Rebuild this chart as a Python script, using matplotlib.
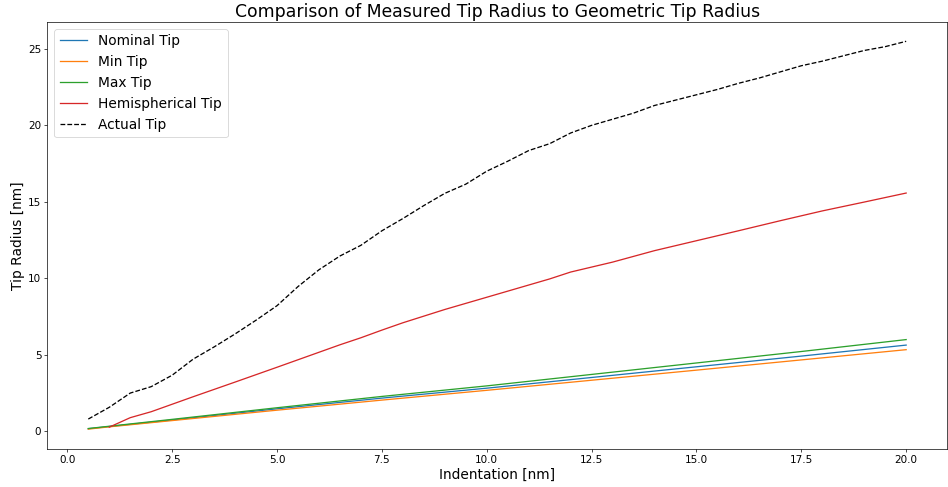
import matplotlib
matplotlib.use('Agg')
import matplotlib.pyplot as plt

# geometric tip models
x_geo = [0.5, 1.0, 2.5, 5.0, 7.5, 10.0, 12.5, 15.0, 17.5, 20.0]
nominal_tip = [0.15, 0.29, 0.72, 1.45, 2.15, 2.8, 3.5, 4.2, 4.9, 5.62]
min_tip = [0.12, 0.27, 0.68, 1.36, 2.02, 2.66, 3.32, 3.98, 4.65, 5.32]
max_tip = [0.16, 0.31, 0.76, 1.52, 2.26, 2.95, 3.7, 4.45, 5.2, 5.98]

x_hemi = [1.0, 1.5, 2.0, 2.5, 3.0, 3.5, 4.0, 5.0, 6.0, 6.5, 7.0, 7.5, 8.0, 9.0,
          10.0, 11.0, 11.5, 12.0, 13.0, 14.0, 15.0, 16.0, 17.0, 18.0, 19.0, 20.0]
hemi_tip = [0.25, 0.87, 1.26, 1.75, 2.24, 2.72, 3.2, 4.17, 5.15, 5.64, 6.1, 6.6,
            7.08, 7.95, 8.75, 9.55, 9.95, 10.4, 11.05, 11.8, 12.45, 13.1, 13.76,
            14.4, 14.98, 15.57]

# measured (actual) tip radius
x_act = [0.5, 1.0, 1.5, 2.0, 2.5, 3.0, 3.5, 4.0, 4.5, 5.0, 5.5, 6.0, 6.5, 7.0,
         7.5, 8.0, 8.5, 9.0, 9.5, 10.0, 10.5, 11.0, 11.5, 12.0, 12.5, 13.0,
         13.5, 14.0, 14.5, 15.0, 15.5, 16.0, 16.5, 17.0, 17.5, 18.0, 18.5,
         19.0, 19.5, 20.0]
actual_tip = [0.78, 1.55, 2.48, 2.9, 3.65, 4.7, 5.5, 6.35, 7.25, 8.2, 9.45,
              10.55, 11.45, 12.15, 13.1, 13.9, 14.75, 15.55, 16.15, 17.0,
              17.65, 18.35, 18.8, 19.5, 20.0, 20.4, 20.8, 21.3, 21.65, 22.0,
              22.35, 22.75, 23.1, 23.5, 23.9, 24.2, 24.55, 24.9, 25.15, 25.5]

dpi = 62
fig, ax = plt.subplots(figsize=(948 / dpi, 487 / dpi), dpi=dpi)
fig.subplots_adjust(left=0.05, right=0.999, bottom=0.079, top=0.955)

ax.plot(x_geo, nominal_tip, color='tab:blue', label='Nominal Tip')
ax.plot(x_geo, min_tip, color='tab:orange', label='Min Tip')
ax.plot(x_geo, max_tip, color='tab:green', label='Max Tip')
ax.plot(x_hemi, hemi_tip, color='tab:red', label='Hemispherical Tip')
ax.plot(x_act, actual_tip, color='black', ls='--', label='Actual Tip')

ax.set_title('Comparison of Measured Tip Radius to Geometric Tip Radius', fontsize=20)
ax.set_xlabel('Indentation [nm]', fontsize=16)
ax.set_ylabel('Tip Radius [nm]', fontsize=16)
ax.tick_params(labelsize=12)
ax.legend(loc='upper left', fontsize=16)

fig.savefig('out.png', dpi=dpi)
